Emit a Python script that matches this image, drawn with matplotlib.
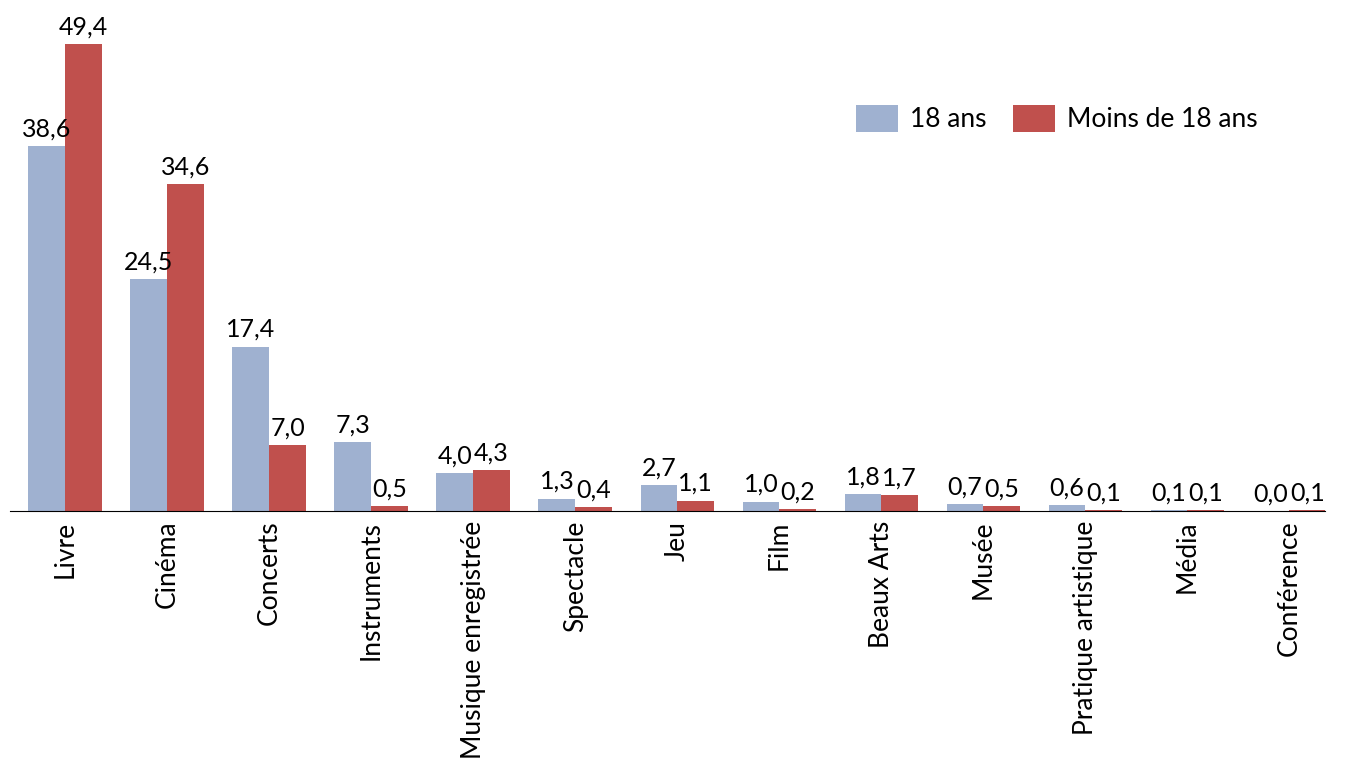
import matplotlib.pyplot as plt
import numpy as np

categories = ['Livre', 'Cinéma', 'Concerts', 'Instruments', 'Musique enregistrée',
              'Spectacle', 'Jeu', 'Film', 'Beaux Arts', 'Musée',
              'Pratique artistique', 'Média', 'Conférence']
adultes = [38.6, 24.5, 17.4, 7.3, 4.0, 1.3, 2.7, 1.0, 1.8, 0.7, 0.6, 0.1, 0.0]
mineurs = [49.4, 34.6, 7.0, 0.5, 4.3, 0.4, 1.1, 0.2, 1.7, 0.5, 0.1, 0.1, 0.1]

plt.rcParams['font.family'] = ['Lato', 'DejaVu Sans']

fig = plt.figure(figsize=(13.55, 7.83), dpi=100)
ax = fig.add_axes([0.0074, 0.3474, 0.9705, 0.6277])

x = np.arange(len(categories))
w = 0.36
b1 = ax.bar(x - w/2, adultes, w, color='#9FB1D0', label='18 ans')
b2 = ax.bar(x + w/2, mineurs, w, color='#C0504D', label='Moins de 18 ans')

for bars in (b1, b2):
    for r in bars:
        h = r.get_height()
        ax.text(r.get_x() + r.get_width()/2, h + 0.6, f'{h:.1f}'.replace('.', ','),
                ha='center', va='bottom', fontsize=18)

ax.set_xlim(-0.54, 12.35)
ax.set_ylim(0, 52)
ax.set_xticks(x)
ax.set_xticklabels(categories, rotation=90, fontsize=19)
ax.tick_params(axis='x', length=0, pad=7)
ax.set_yticks([])
for s in ['top', 'right', 'left']:
    ax.spines[s].set_visible(False)
ax.spines['bottom'].set_color('black')

ax.legend(loc='upper left', bbox_to_anchor=(0.625, 0.875), ncol=2, frameon=False,
          fontsize=19, handlelength=1.6, handleheight=1.2, columnspacing=1.0,
          handletextpad=0.45)

fig.savefig('out.png', dpi=100)
